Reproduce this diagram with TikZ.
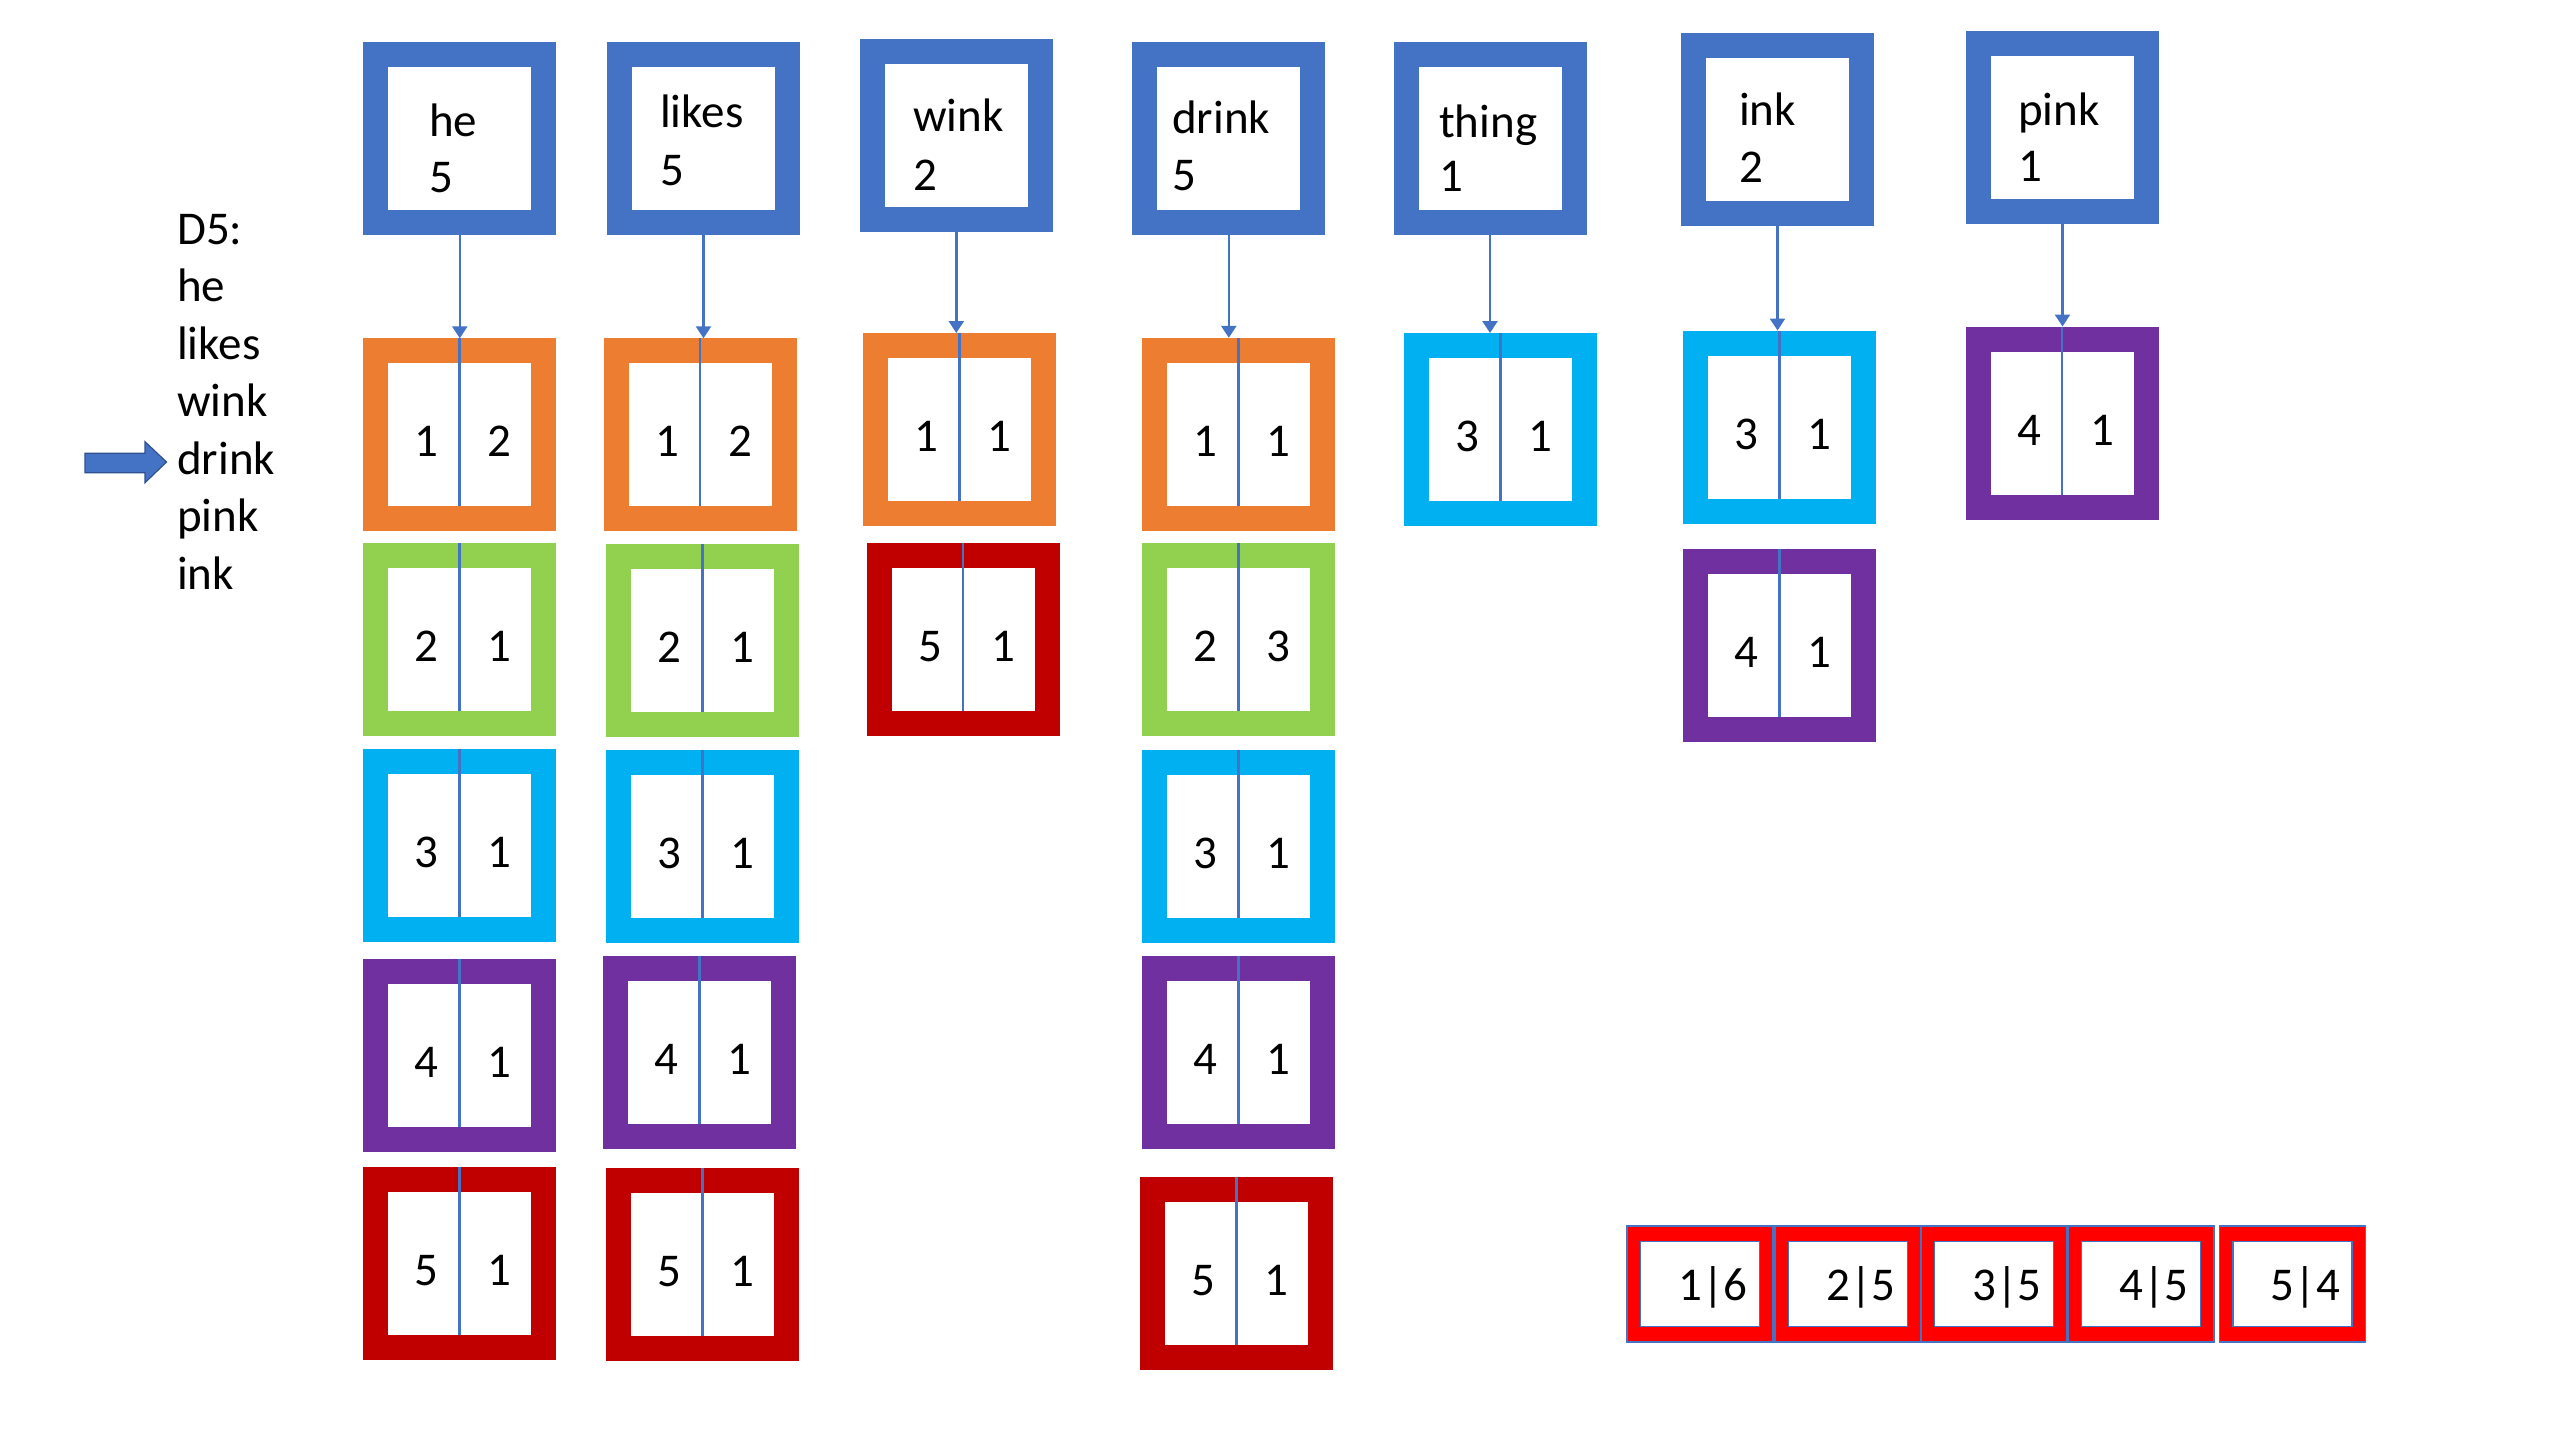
\documentclass[tikz,border=0pt]{standalone}
\usepackage{fontspec}
\setmainfont{Carlito}
\usetikzlibrary{arrows.meta}
\definecolor{tblue}{HTML}{4472C4}
\definecolor{corange}{HTML}{ED7D31}
\definecolor{cgreen}{HTML}{92D050}
\definecolor{ccyan}{HTML}{00B0F0}
\definecolor{cpurple}{HTML}{7030A0}
\definecolor{cdred}{HTML}{C00000}
\definecolor{pred}{HTML}{FF0000}
\definecolor{adark}{HTML}{2F528F}
\tikzset{
  wbox/.style={draw=tblue, line width=25pt, minimum width=168pt, minimum height=168pt, inner sep=0pt, fill=white},
  cellbase/.style={line width=25pt, minimum width=168pt, minimum height=168pt, inner sep=0pt, fill=white},
  txt/.style={inner sep=0pt, anchor=base west},
  num/.style={inner sep=0pt, anchor=base},
  divline/.style={draw=tblue, line width=2.5pt},
  conn/.style={draw=tblue, line width=2.5pt, -{Triangle[width=15pt,length=12pt]}},
  rbox/.style={fill=pred, draw=tblue, line width=1.5pt, minimum width=146pt, minimum height=116pt, inner sep=0pt},
  rin/.style={fill=white, draw=tblue, line width=1.5pt, minimum width=119pt, minimum height=85pt, inner sep=0pt},
}
\newcommand{\mkcell}[6]{%
  \node[cellbase, draw=#4] (#1) at (#2,#3) {};
  \draw[divline] (#1.north) -- ([yshift=25pt]#1.south);
  \node[num] (#1a) at ([xshift=-33pt,yshift=-22pt]#1.center) {#5};
  \node[num] (#1b) at ([xshift=40pt,yshift=-22pt]#1.center) {#6};
}
\newcommand{\mkres}[3]{%
  \node[rbox] (#1) at (#2,1284) {};
  \node[rin] (#1i) at (#1.center) {};
  \node[num] (#1t) at ([xshift=13pt,yshift=-16pt]#1.center) {#3};
}
\begin{document}
\begin{tikzpicture}[x=1pt,y=-1pt,font=\fontsize{47}{57}\selectfont]
\useasboundingbox (0,0) rectangle (2560,1440);
\fill[white] (0,0) rectangle (2560,1440);

% left list
\foreach \w [count=\i] in {D5:,he,likes,wink,drink,pink,ink}
  \node[txt] (l\i) at (177,{244.3+57.5*(\i-1)}) {\w};
\draw[fill=tblue, draw=adark, line width=1.2pt]
  (85,453.3) -- (145,453.3) -- (145,441.7) -- (166.5,462) -- (145,482.7) -- (145,472.7) -- (85,472.7) -- cycle;

% top word boxes
\node[wbox] (he)    at (459.8,138.2) {};
\node[wbox] (likes) at (703.5,138.2) {};
\node[wbox] (wink)  at (956.3,135) {};
\node[wbox] (drink) at (1228.8,138.4) {};
\node[wbox] (thing) at (1490,138.4) {};
\node[wbox] (ink)   at (1777.5,129.7) {};
\node[wbox] (pink)  at (2062.5,127) {};

\node[txt] (heW) at (429,136.4) {he};     \node[txt] (heN) at (429,192.9) {5};
\node[txt] (liW) at (660,127.5) {likes};  \node[txt] (liN) at (660,185.7) {5};
\node[txt] (wiW) at (913,131.7) {wink};   \node[txt] (wiN) at (913,190) {2};
\node[txt] (drW) at (1172,133.3) {drink}; \node[txt] (drN) at (1172,190) {5};
\node[txt] (thW) at (1439,137) {thing};   \node[txt] (thN) at (1439,191.7) {1};
\node[txt] (inW) at (1739,125) {ink};     \node[txt] (inN) at (1739,182.7) {2};
\node[txt] (piW) at (2018,125) {pink};    \node[txt] (piN) at (2018,181.7) {1};

% posting lists
\mkcell{heA}{459.5}{434.8}{corange}{1}{2}
\mkcell{heB}{459.5}{639.8}{cgreen}{2}{1}
\mkcell{heC}{459.5}{845.5}{ccyan}{3}{1}
\mkcell{heD}{459.5}{1055.4}{cpurple}{4}{1}
\mkcell{heE}{459.5}{1263}{cdred}{5}{1}

\mkcell{liA}{700}{434.8}{corange}{1}{2}
\mkcell{liB}{702.3}{640.8}{cgreen}{2}{1}
\mkcell{liC}{702.3}{846.8}{ccyan}{3}{1}
\mkcell{liD}{699.7}{1052.6}{cpurple}{4}{1}
\mkcell{liE}{702.5}{1264}{cdred}{5}{1}

\mkcell{wiA}{959.7}{429.5}{corange}{1}{1}
\mkcell{wiB}{963.2}{639}{cdred}{5}{1}

\mkcell{drA}{1238.5}{434.3}{corange}{1}{1}
\mkcell{drB}{1238.5}{639.3}{cgreen}{2}{3}
\mkcell{drC}{1238.5}{846.3}{ccyan}{3}{1}
\mkcell{drD}{1238.5}{1052.5}{cpurple}{4}{1}
\mkcell{drE}{1236.3}{1273.5}{cdred}{5}{1}

\mkcell{thA}{1500.7}{429.5}{ccyan}{3}{1}

\mkcell{inA}{1779.5}{427}{ccyan}{3}{1}
\mkcell{inB}{1779.5}{645.5}{cpurple}{4}{1}

\mkcell{piA}{2062}{423}{cpurple}{4}{1}

% connectors
\draw[conn] (he.south)    -- (he.south |- heA.north);
\draw[conn] (likes.south) -- (likes.south |- liA.north);
\draw[conn] (wink.south)  -- (wink.south |- wiA.north);
\draw[conn] (drink.south) -- (drink.south |- drA.north);
\draw[conn] (thing.south) -- (thing.south |- thA.north);
\draw[conn] (ink.south)   -- (ink.south |- inA.north);
\draw[conn] (pink.south)  -- (pink.south |- piA.north);

% result row
\mkres{r1}{1700}{1|6}
\mkres{r2}{1848}{2|5}
\mkres{r3}{1994.1}{3|5}
\mkres{r4}{2141.1}{4|5}
\mkres{r5}{2292.3}{5|4}
\end{tikzpicture}
\end{document}
